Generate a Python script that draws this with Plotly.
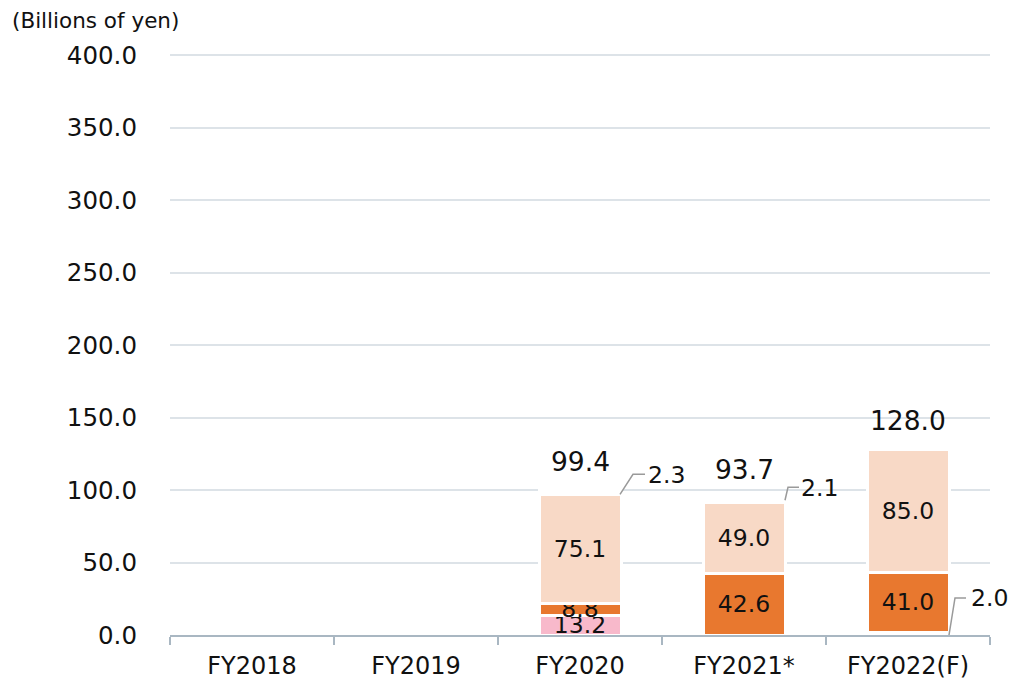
import plotly.graph_objects as go

categories = ["FY2018", "FY2019", "FY2020", "FY2021*", "FY2022(F)"]
pink_vals = [0, 0, 13.2, 0, 2.0]
orange_vals = [0, 0, 8.8, 42.6, 41.0]
peach_vals = [0, 0, 75.1, 49.0, 85.0]
top_vals = [0, 0, 2.3, 2.1, 0]
totals = [None, None, 99.4, 93.7, 128.0]
y_ticks = [0, 50, 100, 150, 200, 250, 300, 350, 400]

FONT = "Verdana, DejaVu Sans, sans-serif"
TXT = "#111111"
BARGAP = 0.5

def labels(vals, show):
    return [f"{v:.1f}" if (s and v) else "" for v, s in zip(vals, show)]

series = [
    ("pink", pink_vals, "#f8b9cb", [0, 0, 1, 0, 0]),
    ("orange", orange_vals, "#e8782f", [0, 0, 1, 1, 1]),
    ("peach", peach_vals, "#f8d9c6", [0, 0, 1, 1, 1]),
    ("top", top_vals, "#ffffff", [0, 0, 0, 0, 0]),
]

fig = go.Figure()
for name, vals, color, show in series:
    fig.add_trace(go.Bar(
        x=categories, y=vals, name=name,
        marker=dict(color=color, line=dict(color="white", width=3)),
        text=labels(vals, show), textposition="inside",
        insidetextanchor="middle", textangle=0, constraintext="none",
        textfont=dict(family=FONT, size=23.5, color=TXT),
        hoverinfo="skip",
    ))

# totals above bars
for i, t in enumerate(totals):
    if t is not None:
        fig.add_annotation(x=categories[i], y=t, text=f"{t:.1f}", showarrow=False,
                           yanchor="bottom", yshift=12,
                           font=dict(family=FONT, size=26.5, color=TXT))

# callouts for small segments: (category index, value, base value, path, text offset)
half = (1 - BARGAP) / 2
callouts = [
    (2, top_vals[2], pink_vals[2] + orange_vals[2] + peach_vals[2], "M-1,0 L12,20 L24,20", (25, 19)),
    (3, top_vals[3], orange_vals[3] + peach_vals[3], "M0,2 L3,15 L14,15", (14, 14)),
    (4, pink_vals[4], 0, "M0,0 L6,37 L17,37", (20, 37)),
]
for idx, val, base, path, (dx, dy) in callouts:
    fig.add_shape(type="path", xref="x", yref="y", xsizemode="pixel", ysizemode="pixel",
                  xanchor=idx + half, yanchor=base, path=path,
                  line=dict(color="#9a9a9a", width=1.5))
    fig.add_annotation(x=idx + half, y=base, text=f"{val:.1f}", showarrow=False,
                       xanchor="left", yanchor="middle", xshift=dx, yshift=dy,
                       font=dict(family=FONT, size=23.5, color=TXT))

fig.add_annotation(xref="paper", yref="paper", x=0, y=1, xanchor="left", yanchor="middle",
                   xshift=-160, yshift=34, text="(Billions of yen)", showarrow=False,
                   font=dict(family=FONT, size=21.5, color=TXT))

fig.update_layout(
    barmode="stack", bargap=BARGAP, showlegend=False,
    width=1014, height=680,
    margin=dict(l=170, r=24, t=54, b=45, autoexpand=False),
    plot_bgcolor="white", paper_bgcolor="white",
    font=dict(family=FONT, size=24, color=TXT),
    uniformtext=dict(minsize=23.5, mode="show"),
)
fig.update_xaxes(
    type="category", range=[-0.5, len(categories) - 0.5], autorange=False, automargin=False,
    showline=True, linecolor="#a9b7c2", linewidth=1.5,
    ticks="outside", tickson="boundaries", ticklen=8, tickcolor="#a9b7c2", tickwidth=1.5,
    tickfont=dict(family=FONT, size=24, color=TXT), showgrid=False, ticklabelstandoff=8,
)
fig.update_yaxes(
    range=[0, 401], automargin=False, tickvals=y_ticks, ticktext=[f"{v:.1f}" for v in y_ticks],
    showgrid=True, gridcolor="#dde3e8", gridwidth=1.5, zeroline=False, showline=False,
    tickfont=dict(family=FONT, size=24.5, color=TXT), ticklabelstandoff=32,
)

fig.write_html("out.html", config={"displayModeBar": False},
               post_script="document.body.style.margin='0';")
